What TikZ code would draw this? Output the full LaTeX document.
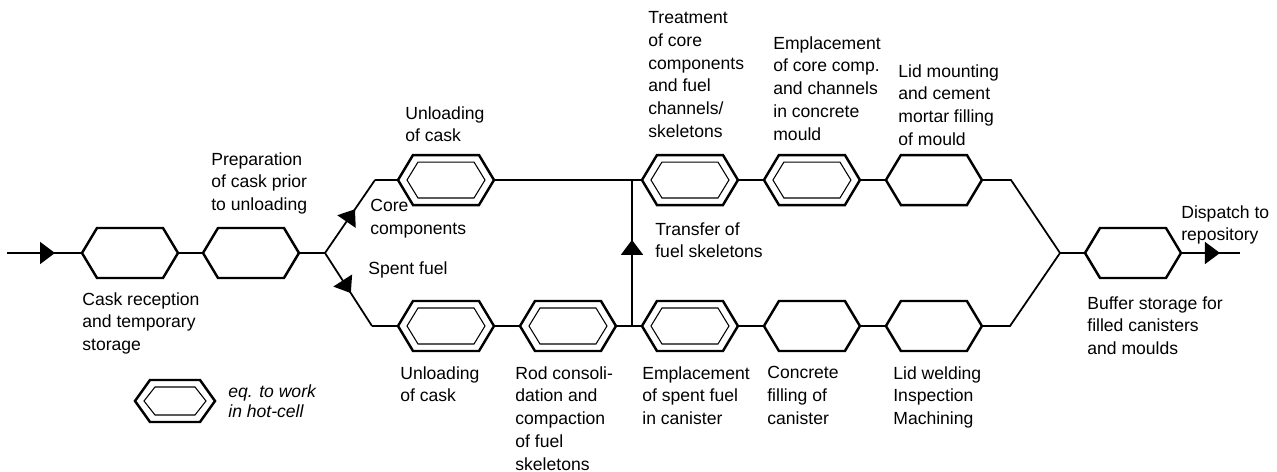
\documentclass[tikz,border=0pt]{standalone}
\usepackage{fontspec}
\setmainfont{Liberation Sans}
\usetikzlibrary{positioning,arrows.meta,decorations.markings}

\begin{document}
\begin{tikzpicture}[x=0.02cm,y=-0.02cm,node distance=0.52cm,
		cell/.style={rectangle,minimum width=1.92cm,minimum height=1cm,inner sep=0pt,outer sep=0pt},
		keycell/.style={rectangle,minimum width=1.6cm,minimum height=0.84cm,inner sep=0pt,outer sep=0pt},
		hexline/.style={line width=1.4pt},
		hotline/.style={line width=0.6pt},
		flow/.style={line width=1pt},
		txt/.style={anchor=north west,align=left,inner sep=0pt,font=\fontsize{10}{13}\selectfont},
		midarrow/.style={postaction={decorate},decoration={markings,
			mark=at position #1 with {\arrow{Triangle[length=3mm,width=4.4mm]}}}}]

	\useasboundingbox (0,0) rectangle (1277,472);

	% process units
	\node[cell] (recep) at (130,253) {};
	\node[cell] (prep) [right=0.5cm of recep] {};
	\node[cell] (unlB) at (446,326) {};
	\node[cell] (consol) [right=of unlB] {};
	\node[cell] (embB) [right=of consol] {};
	\node[cell] (concr) [right=of embB] {};
	\node[cell] (weld) [right=of concr] {};
	\node[cell] (unlA) [above=1.92cm of unlB] {};
	\node[cell] (treat) [above=1.92cm of embB] {};
	\node[cell] (embA) [above=1.92cm of concr] {};
	\node[cell] (lidA) [above=1.92cm of weld] {};
	\node[cell] (buffer) at (1133,253) {};
	\node[keycell] (hk) at (175,401) {};

	% junctions
	\coordinate (in) at (7,253);
	\coordinate (j1) at (325,253);
	\coordinate (uc) at (375,180);
	\coordinate (lc) at (372,326);
	\coordinate (jt) at (632,180);
	\coordinate (jb) at (632,326);
	\coordinate (ue) at (1011,180);
	\coordinate (le) at (1010,326);
	\coordinate (j2) at (1060,253);
	\coordinate (out) at (1240,253);

	\foreach \n in {recep,prep,unlA,treat,embA,lidA,unlB,consol,embB,concr,weld,buffer,hk}
		\draw[hexline] (\n.west) -- ([xshift=3mm]\n.north west) -- ([xshift=-3mm]\n.north east)
			-- (\n.east) -- ([xshift=-3mm]\n.south east) -- ([xshift=3mm]\n.south west) -- cycle;
	\foreach \n in {unlA,treat,embA,unlB,consol,embB,hk}
		\draw[hotline] ([xshift=1.8mm]\n.west) -- ([xshift=4mm,yshift=-1.4mm]\n.north west)
			-- ([xshift=-4mm,yshift=-1.4mm]\n.north east) -- ([xshift=-1.8mm]\n.east)
			-- ([xshift=-4mm,yshift=1.4mm]\n.south east) -- ([xshift=4mm,yshift=1.4mm]\n.south west) -- cycle;

	\draw[flow,midarrow=0.64] (in) -- (recep);
	\draw[flow] (recep) -- (prep) -- (j1);
	\draw[flow,midarrow=0.6] (j1) -- (uc);
	\draw[flow,midarrow=0.55] (j1) -- (lc);
	\draw[flow] (uc) -- (unlA) -- (jt) -- (treat) -- (embA) -- (lidA) -- (ue) -- (j2);
	\draw[flow] (lc) -- (unlB) -- (consol) -- (jb) -- (embB) -- (concr) -- (weld) -- (le) -- (j2) -- (buffer);
	\draw[flow,midarrow=0.59] (jb) -- (jt);
	\draw[flow,midarrow=0.66] (buffer) -- (out);

	% texts
	\node[txt] (t1) at (82,292) {Cask reception\\and temporary\\storage};
	\node[txt] (t2) at (211,152) {Preparation\\of cask prior\\to unloading};
	\node[txt] (t3) at (405,106) {Unloading\\of cask};
	\node[txt] (t4) at (370,199) {Core\\components};
	\node[txt] (t5) at (368,261) {Spent fuel};
	\node[txt] (t6) at (648,11) {Treatment\\of core\\components\\and fuel\\channels/\\skeletons};
	\node[txt] (t7) at (773,36) {Emplacement\\of core comp.\\and channels\\in concrete\\mould};
	\node[txt] (t8) at (898,64) {Lid mounting\\and cement\\mortar filling\\of mould};
	\node[txt] (t9) at (655,222) {Transfer of\\fuel skeletons};
	\node[txt] (t10) at (1181,205) {Dispatch to\\repository};
	\node[txt] (t11) at (1087,296) {Buffer storage for\\filled canisters\\and moulds};
	\node[txt] (t12) at (400,366) {Unloading\\of cask};
	\node[txt] (t13) at (515,366) {Rod consoli-\\dation and\\compaction\\of fuel\\skeletons};
	\node[txt] (t14) at (642,366) {Emplacement\\of spent fuel\\in canister};
	\node[txt] (t15) at (767,366) {Concrete\\filling of\\canister};
	\node[txt] (t16) at (893,366) {Lid welding\\Inspection\\Machining};
	\node[txt,font=\fontsize{10}{11.5}\selectfont\itshape] (t17) at (228,384) {eq. to work\\in hot-cell};
\end{tikzpicture}
\end{document}
